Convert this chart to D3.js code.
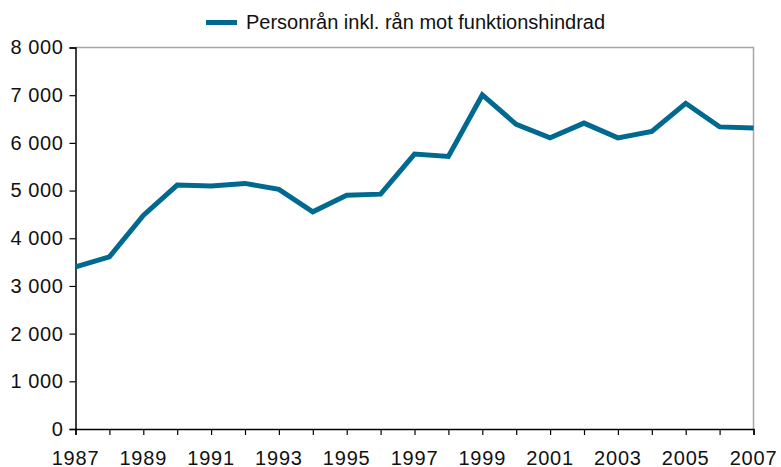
<!DOCTYPE html>
<html>
<head>
<meta charset="utf-8">
<script src="https://cdn.jsdelivr.net/npm/d3@7"></script>
<style>
  body { margin: 0; background: #fff; }
  text { font-family: "Liberation Sans", Arial, sans-serif; fill: #111; }
</style>
</head>
<body>
<svg id="chart" width="781" height="467"></svg>
<script>
// data
var years = [1987, 1988, 1989, 1990, 1991, 1992, 1993, 1994, 1995, 1996, 1997,
             1998, 1999, 2000, 2001, 2002, 2003, 2004, 2005, 2006, 2007];
var robberies = [3400, 3610, 4480, 5115, 5095, 5150, 5025, 4555, 4900, 4925, 5765,
                 5715, 7005, 6390, 6105, 6415, 6105, 6240, 6830, 6335, 6310];
var seriesName = "Personrån inkl. rån mot funktionshindrad";
var yTicks = [0, 1000, 2000, 3000, 4000, 5000, 6000, 7000, 8000];
var xLabels = [1987, 1989, 1991, 1993, 1995, 1997, 1999, 2001, 2003, 2005, 2007];

var lineColor = "#00698f";
var plotL = 75.5, plotR = 753.5, plotT = 47.5, plotB = 429;

var svg = d3.select("#chart");

var x = d3.scaleLinear().domain([1987, 2007]).range([plotL, plotR]);
var y = d3.scaleLinear().domain([0, 8000]).range([plotB, plotT]);

// frame: grey top and right
svg.append("path")
    .attr("d", `M${plotL},${plotT}H${plotR}V${plotB}`)
    .attr("fill", "none")
    .attr("stroke", "#a6a6a6")
    .attr("stroke-width", 1.5);

var fmt = d => d3.format(",")(d).replace(/,/g, " ");

var yAxis = svg.append("g")
    .attr("transform", `translate(${plotL},0)`)
    .call(d3.axisLeft(y).tickValues(yTicks).tickSize(6).tickPadding(6).tickFormat(fmt));
yAxis.select(".domain").attr("stroke", "#000").attr("stroke-width", 1.5);
yAxis.selectAll(".tick line").attr("stroke", "#000").attr("stroke-width", 1.2);
yAxis.selectAll("text")
    .attr("font-size", 20)
    .attr("letter-spacing", 0.6)
    .attr("font-family", "Liberation Sans, Arial, sans-serif")
    .attr("fill", "#111");

var xAxis = svg.append("g")
    .attr("transform", `translate(0,${plotB})`)
    .call(d3.axisBottom(x).tickValues(years).tickSize(6).tickFormat(""));
xAxis.select(".domain").attr("stroke", "#000").attr("stroke-width", 1.5);
xAxis.selectAll(".tick line").attr("stroke", "#000").attr("stroke-width", 1.2);

svg.append("g").selectAll("text")
    .data(xLabels)
    .enter().append("text")
    .attr("x", d => x(d))
    .attr("y", 465)
    .attr("text-anchor", "middle")
    .attr("font-size", 20)
    .attr("letter-spacing", 0.8)
    .text(d => d);

var line = d3.line()
    .x((d, i) => x(years[i]))
    .y(d => y(d));

svg.append("path")
    .datum(robberies)
    .attr("d", line)
    .attr("fill", "none")
    .attr("stroke", lineColor)
    .attr("stroke-width", 5)
    .attr("stroke-linejoin", "miter");

// legend
var legend = svg.append("g");
legend.append("line")
    .attr("x1", 206).attr("x2", 237)
    .attr("y1", 22.5).attr("y2", 22.5)
    .attr("stroke", lineColor)
    .attr("stroke-width", 5);
legend.append("text")
    .attr("x", 246)
    .attr("y", 28.5)
    .attr("font-size", 20)
    .text(seriesName);
</script>
</body>
</html>
